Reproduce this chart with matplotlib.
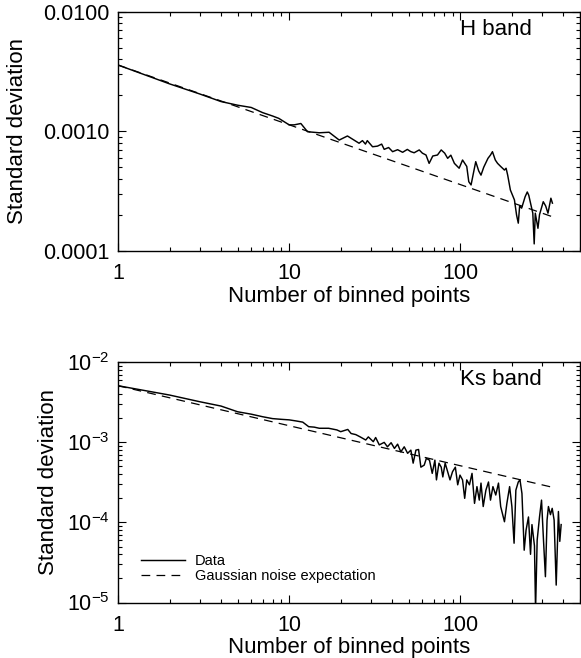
import matplotlib
matplotlib.use("Agg")
import matplotlib.pyplot as plt
from matplotlib.ticker import FixedLocator, FuncFormatter, LogLocator, NullFormatter

plt.rcParams['font.family'] = ['Liberation Sans', 'DejaVu Sans']
plt.rcParams['mathtext.fontset'] = 'custom'
plt.rcParams['mathtext.rm'] = 'Liberation Sans'
plt.rcParams['mathtext.default'] = 'regular'
plt.rcParams['axes.unicode_minus'] = False

# ---------------- data ----------------
top_n = [1, 2, 3, 4, 5, 6, 7, 8, 8.7, 10,
         10.7, 11.7, 12.8, 15, 17.1, 19.6, 21.9, 25.6, 26.8, 27.9,
         28.6, 30.7, 32.8, 34.7, 35.9, 38.1, 40.2, 43, 46, 49,
         51.3, 53.7, 57.5, 60, 63, 65.7, 69, 73.5, 77.3, 81,
         84.3, 88, 92.3, 98.4, 103, 109, 112, 115.5, 119, 123,
         128, 132, 137, 145, 150, 154, 160, 165, 172, 181,
         185, 189, 196, 207, 213, 218, 222, 228, 239, 246,
         251, 265, 270, 274, 284, 290, 305, 315, 325, 338,
         345]
top_sd = [3.58e-3, 2.49e-3, 2.05e-3, 1.77e-3, 1.65e-3, 1.58e-3, 1.43e-3, 1.34e-3, 1.28e-3, 1.13e-3,
          1.13e-3, 1.16e-3, 0.99e-3, 0.97e-3, 0.98e-3, 8.43e-4, 9.12e-4, 7.93e-4, 8.34e-4, 7.8e-4,
          8.34e-4, 7.41e-4, 7.5e-4, 7.8e-4, 7.05e-4, 7.3e-4, 6.74e-4, 7.0e-4, 6.66e-4, 7.04e-4,
          6.75e-4, 6.6e-4, 6.97e-4, 6.55e-4, 6.32e-4, 5.38e-4, 6.2e-4, 6.32e-4, 6.97e-4, 6.55e-4,
          5.93e-4, 6.3e-4, 5.38e-4, 4.9e-4, 5.74e-4, 5.07e-4, 3.78e-4, 3.55e-4, 4.4e-4, 5.56e-4,
          4.65e-4, 4.29e-4, 5.0e-4, 5.93e-4, 6.32e-4, 6.74e-4, 5.74e-4, 5.38e-4, 5.07e-4, 4.73e-4,
          4.9e-4, 4.29e-4, 3.22e-4, 2.66e-4, 1.99e-4, 1.7e-4, 2.37e-4, 2.27e-4, 2.83e-4, 3.1e-4,
          2.91e-4, 2.06e-4, 1.14e-4, 2.06e-4, 1.54e-4, 2.0e-4, 2.57e-4, 2.37e-4, 2.06e-4, 2.75e-4,
          2.5e-4]
top_gauss_n = [1, 350]
top_gauss_sd = [3.58e-3, 1.91e-4]

bot_n = [1, 2, 3, 4, 5, 6, 7, 8, 9, 10,
         11, 12, 13, 14, 15, 17, 19, 20, 22, 23,
         24.5, 26, 28, 29, 31, 32, 33.6, 35.9, 37.5, 39.4,
         41.2, 43, 44.9, 47, 49.2, 51.4, 53, 55, 57, 58.8,
         61.5, 63.3, 66, 68.5, 71, 72.5, 75, 77.3, 79, 81.5,
         84.3, 87, 90, 93.5, 96.5, 99.5, 103, 106, 109, 113,
         117, 121, 125, 129, 132, 136, 141, 146, 150, 155,
         161, 167, 172, 181, 187, 194, 200, 206, 211, 218,
         223, 229, 236, 242, 250, 257, 262, 271, 275, 281,
         290, 298, 306, 314, 321, 327, 336, 344, 353, 363,
         374, 381, 388]
bot_sd = [5.1e-3, 3.9e-3, 3.22e-3, 2.84e-3, 2.41e-3, 2.25e-3, 2.09e-3, 1.98e-3, 1.94e-3, 1.91e-3,
          1.85e-3, 1.79e-3, 1.57e-3, 1.55e-3, 1.5e-3, 1.5e-3, 1.43e-3, 1.36e-3, 1.45e-3, 1.29e-3,
          1.25e-3, 1.17e-3, 1.07e-3, 1.17e-3, 1.02e-3, 1.15e-3, 9.3e-4, 1.0e-3, 8.8e-4, 9.9e-4,
          8.4e-4, 9.5e-4, 7.6e-4, 8.8e-4, 7.3e-4, 8.0e-4, 5.5e-4, 8.0e-4, 8.15e-4, 4.9e-4,
          5.2e-4, 6.3e-4, 6.0e-4, 4.1e-4, 6.0e-4, 3.4e-4, 5.5e-4, 4.9e-4, 3.7e-4, 5.5e-4,
          4.3e-4, 3.4e-4, 4.3e-4, 4.9e-4, 2.95e-4, 3.9e-4, 3.4e-4, 2.0e-4, 3.4e-4, 2.95e-4,
          4.1e-4, 1.73e-4, 2.8e-4, 1.9e-4, 3.1e-4, 1.58e-4, 2.53e-4, 3.2e-4, 1.9e-4, 2.8e-4,
          2.2e-4, 3.1e-4, 1.58e-4, 1.02e-4, 1.73e-4, 2.8e-4, 1.58e-4, 5.5e-5, 2.53e-4, 3.2e-4,
          3.4e-4, 2.3e-4, 4.5e-5, 8.0e-5, 1.17e-4, 4.0e-5, 9.4e-5, 5.1e-5, 8e-6, 6.0e-5,
          1.17e-4, 1.9e-4, 6.0e-5, 2.1e-5, 1.07e-4, 1.58e-4, 1.25e-4, 1.5e-4, 1.07e-4, 1.65e-5,
          1.37e-4, 5.8e-5, 9.4e-5]
bot_gauss_n = [1, 350]
bot_gauss_sd = [5.1e-3, 2.73e-4]

x_ticks = [1, 10, 100]
x_ticklabels = ['1', '10', '100']
top_yticks = [1e-4, 1e-3, 1e-2]
top_yticklabels = ['0.0001', '0.0010', '0.0100']
legend_labels = ['Data', 'Gaussian noise expectation']
band_labels = ['H band', 'Ks band']

# ---------------- figure ----------------
W, H = 581, 658
fig = plt.figure(figsize=(W / 100, H / 100), dpi=100)

def px_axes(left, top, right, bottom):
    return fig.add_axes([left / W, 1 - bottom / H, (right - left) / W, (bottom - top) / H])

ax1 = px_axes(118, 11.7, 580, 250.7)
ax2 = px_axes(118, 362.3, 580, 602.5)

FS = 16
TFS = 15.5
dash = (0, (7, 5))

for ax in (ax1, ax2):
    ax.set_xscale('log')
    ax.set_yscale('log')
    ax.set_xlim(1, 500)
    for s in ax.spines.values():
        s.set_linewidth(1.0)
        s.set_color('black')
    ax.tick_params(which='both', direction='in', top=True, right=True,
                   width=0.8, color='black', labelsize=TFS)
    ax.tick_params(which='major', length=6)
    ax.tick_params(which='minor', length=3)
    ax.tick_params(axis='x', which='major', pad=9)
    ax.tick_params(axis='y', which='major', pad=6)
    ax.xaxis.set_major_locator(FixedLocator(x_ticks))
    ax.xaxis.set_major_formatter(FuncFormatter(lambda v, p: x_ticklabels[x_ticks.index(v)] if v in x_ticks else ''))
    ax.xaxis.set_minor_locator(LogLocator(base=10, subs=range(2, 10)))
    ax.xaxis.set_minor_formatter(NullFormatter())
    ax.yaxis.set_minor_locator(LogLocator(base=10, subs=range(2, 10), numticks=20))
    ax.yaxis.set_minor_formatter(NullFormatter())
    ax.set_xlabel('Number of binned points', fontsize=FS, labelpad=1)

# top panel
ax1.set_ylim(1e-4, 1e-2)
ax1.yaxis.set_major_locator(FixedLocator(top_yticks))
ax1.yaxis.set_major_formatter(FuncFormatter(
    lambda v, p: top_yticklabels[min(range(3), key=lambda i: abs(top_yticks[i] - v) / top_yticks[i])]))
ax1.plot(top_n, top_sd, color='black', lw=1.05)
ax1.plot(top_gauss_n, top_gauss_sd, color='black', lw=0.9, linestyle=dash)
ax1.set_ylabel('Standard deviation', fontsize=FS)
ax1.yaxis.set_label_coords(-0.195, 0.5)
ax1.text(0.896, 0.926, band_labels[0], transform=ax1.transAxes, ha='right', va='center', fontsize=FS)

# bottom panel
ax2.set_ylim(1e-5, 1e-2)
ax2.yaxis.set_major_locator(LogLocator(base=10, numticks=10))
l1, = ax2.plot(bot_n, bot_sd, color='black', lw=1.05)
l2, = ax2.plot(bot_gauss_n, bot_gauss_sd, color='black', lw=0.9, linestyle=dash)
ax2.set_ylabel('Standard deviation', fontsize=FS)
ax2.yaxis.set_label_coords(-0.128, 0.5)
ax2.text(0.918, 0.927, band_labels[1], transform=ax2.transAxes, ha='right', va='center', fontsize=FS)
ax2.legend([l1, l2], legend_labels, loc='upper left', bbox_to_anchor=(0.05, 0.2),
           frameon=False, fontsize=10.5, handlelength=3.0, handletextpad=0.7,
           labelspacing=0.05, borderpad=0, borderaxespad=0)

fig.savefig('out.png', dpi=100)
